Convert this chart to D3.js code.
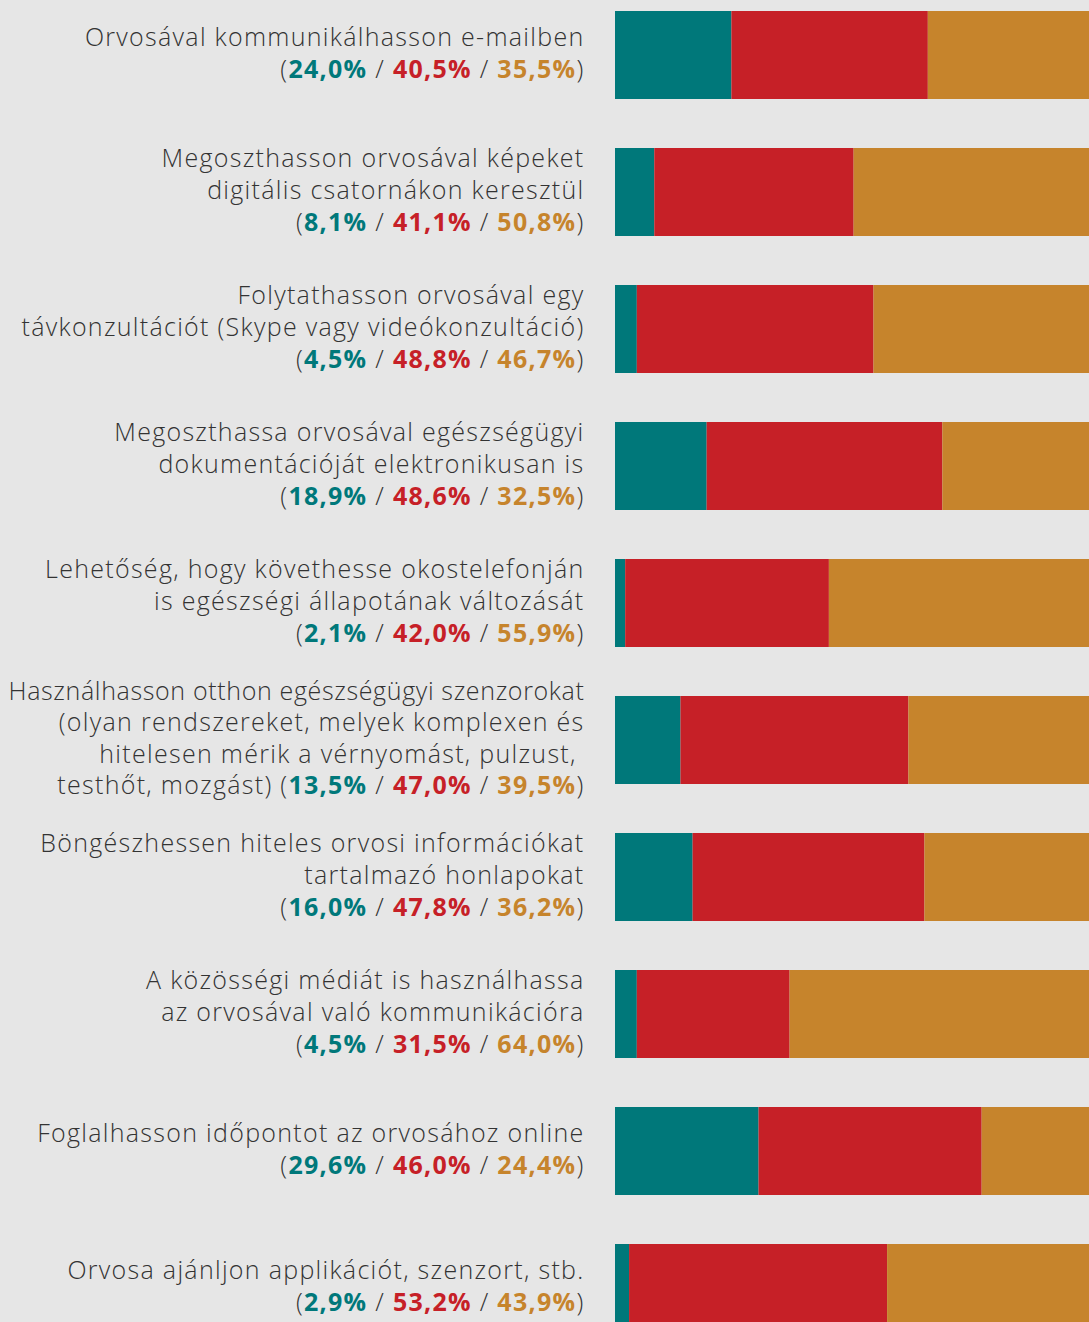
<!DOCTYPE html>
<html>
<head>
<meta charset="utf-8">
<script src="https://cdn.jsdelivr.net/npm/d3@7"></script>
<style>
  html, body { margin: 0; padding: 0; background: #e6e6e6; }
  svg { display: block; }
  text { font-family: "Open Sans", Lato, sans-serif; }
</style>
</head>
<body>
<svg id="chart"></svg>
<script>
// Chart data
const categories = ["c1", "c2", "c3", "c4", "c5", "c6", "c7", "c8", "c9", "c10"];

const labelLines = [
  ["Orvosával kommunikálhasson e-mailben"],
  ["Megoszthasson orvosával képeket", "digitális csatornákon keresztül"],
  ["Folytathasson orvosával egy", "távkonzultációt (Skype vagy videókonzultáció)"],
  ["Megoszthassa orvosával egészségügyi", "dokumentációját elektronikusan is"],
  ["Lehetőség, hogy követhesse okostelefonján", "is egészségi állapotának változását"],
  ["Használhasson otthon egészségügyi szenzorokat", "(olyan rendszereket, melyek komplexen és", "hitelesen mérik a vérnyomást, pulzust,\u00a0", "testhőt, mozgást)"],
  ["Böngészhessen hiteles orvosi információkat", "tartalmazó honlapokat"],
  ["A közösségi médiát is használhassa", "az orvosával való kommunikációra"],
  ["Foglalhasson időpontot az orvosához online"],
  ["Orvosa ajánljon applikációt, szenzort, stb."]
];

// last line of the label shares the percentages (only for the long one)
const inlinePct = [false, false, false, false, false, true, false, false, false, false];

const tealValues = [24.0, 8.1, 4.5, 18.9, 2.1, 13.5, 16.0, 4.5, 29.6, 2.9];
const redValues = [40.5, 41.1, 48.8, 48.6, 42.0, 47.0, 47.8, 31.5, 46.0, 53.2];
const orangeValues = [35.5, 50.8, 46.7, 32.5, 55.9, 39.5, 36.2, 64.0, 24.4, 43.9];

const seriesKeys = ["teal", "red", "orange"];
const colors = { teal: "#00787a", red: "#c62027", orange: "#c6842c" };
const textGray = "#333333";

// Layout
const W = 1089, H = 1322;
const step = 137, barH = 88, firstTop = 11;

const rows = categories.map((c, i) => ({
  cat: c,
  teal: tealValues[i],
  red: redValues[i],
  orange: orangeValues[i]
}));

const svg = d3.select("#chart").attr("width", W).attr("height", H);

const xScale = d3.scaleLinear().domain([0, 100]).range([615, 1100]);

const pad = (step - barH) / step;
const yScale = d3.scaleBand()
  .domain(categories)
  .range([firstTop - step * pad / 2, firstTop - step * pad / 2 + step * categories.length])
  .paddingInner(pad)
  .paddingOuter(pad / 2);

const stacked = d3.stack().keys(seriesKeys)(rows);

svg.append("g")
  .selectAll("g")
  .data(stacked)
  .join("g")
  .attr("fill", (s) => colors[s.key])
  .selectAll("rect")
  .data((s) => s)
  .join("rect")
  .attr("x", (d) => xScale(d[0]))
  .attr("y", (d) => yScale(d.data.cat))
  .attr("width", (d) => xScale(d[1]) - xScale(d[0]))
  .attr("height", yScale.bandwidth());

// Labels
const fmt = (v) => d3.format(".1f")(v).replace(".", ",") + "%";
const fontSize = 25;
const lineGap = 31.6;
const textRight = 584.5;
const spacing = 1.3;
const maxWidth = 576;

const labels = svg.append("g")
  .attr("font-size", fontSize)
  .attr("text-anchor", "end");

function addPct(t, i) {
  t.append("tspan").attr("fill", textGray).attr("font-weight", 300).text("(");
  t.append("tspan").attr("fill", colors.teal).attr("font-weight", 700).text(fmt(tealValues[i]));
  t.append("tspan").attr("fill", textGray).attr("font-weight", 300).text(" / ");
  t.append("tspan").attr("fill", colors.red).attr("font-weight", 700).text(fmt(redValues[i]));
  t.append("tspan").attr("fill", textGray).attr("font-weight", 300).text(" / ");
  t.append("tspan").attr("fill", colors.orange).attr("font-weight", 700).text(fmt(orangeValues[i]));
  t.append("tspan").attr("fill", textGray).attr("font-weight", 300).text(")");
}

// tighten spacing on lines that would run past the left edge
function fit(t) {
  t.attr("letter-spacing", spacing);
  const len = t.node().getComputedTextLength();
  if (len > maxWidth) {
    const n = t.text().length;
    t.attr("letter-spacing", spacing - (len - maxWidth) / n);
  }
}

categories.forEach((c, i) => {
  const lines = labelLines[i].slice();
  const nLines = inlinePct[i] ? lines.length : lines.length + 1;
  const center = yScale(c) + yScale.bandwidth() / 2;
  const firstBase = center + 7 - (nLines - 1) * lineGap / 2;

  lines.forEach((ln, j) => {
    const t = labels.append("text")
      .attr("x", textRight)
      .attr("y", firstBase + j * lineGap)
      .attr("fill", textGray)
      .attr("font-weight", 300);
    const last = j === lines.length - 1;
    if (last && inlinePct[i]) {
      t.append("tspan").text(ln + " ");
      addPct(t, i);
    } else {
      t.text(ln);
    }
    fit(t);
  });

  if (!inlinePct[i]) {
    const t = labels.append("text")
      .attr("x", textRight)
      .attr("y", firstBase + lines.length * lineGap);
    addPct(t, i);
    fit(t);
  }
});
</script>
</body>
</html>
